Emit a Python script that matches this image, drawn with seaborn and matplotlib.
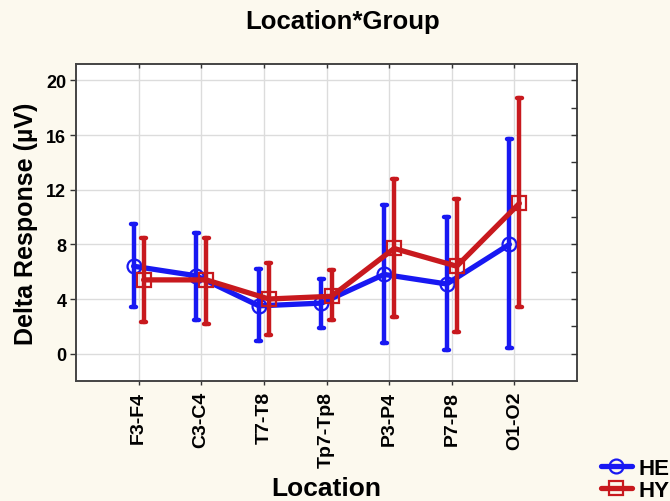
import numpy as np
import pandas as pd
import matplotlib
matplotlib.use("Agg")
import matplotlib.pyplot as plt
import seaborn as sns

locations = ["F3-F4", "C3-C4", "T7-T8", "Tp7-Tp8", "P3-P4", "P7-P8", "O1-O2"]
groups = ["HE", "HY"]

he_mean = [6.4, 5.7, 3.5, 3.7, 5.8, 5.1, 8.0]
he_low = [3.4, 2.5, 0.9, 1.9, 0.8, 0.3, 0.45]
he_high = [9.5, 8.8, 6.2, 5.5, 10.9, 10.0, 15.7]

hy_mean = [5.4, 5.4, 4.0, 4.2, 7.7, 6.4, 11.0]
hy_low = [2.3, 2.2, 1.35, 2.45, 2.7, 1.6, 3.4]
hy_high = [8.5, 8.5, 6.65, 6.1, 12.8, 11.3, 18.7]

yticks = [0, 4, 8, 12, 16, 20]

# long table: low/mean/high per cell -> median = mean, 100% interval = low..high
rows = []
for g, lo, mu, hi in [("HE", he_low, he_mean, he_high), ("HY", hy_low, hy_mean, hy_high)]:
    for loc, a, b, c in zip(locations, lo, mu, hi):
        for v in (a, b, c):
            rows.append({"Location": loc, "Group": g, "Value": v})
df = pd.DataFrame(rows)

sns.set_style("whitegrid")
plt.rcParams["font.family"] = ["Liberation Sans", "DejaVu Sans"]
plt.rcParams["font.weight"] = "bold"
for k in ("text.color", "axes.labelcolor", "xtick.color", "ytick.color"):
    plt.rcParams[k] = "black"

bg = "#FCF9EE"
blue = "#1818F2"
red = "#C8191E"

fig = plt.figure(figsize=(6.7, 5.02), dpi=100, facecolor=bg)
ax = fig.add_axes([76 / 670, 1 - 382 / 502, (577 - 76) / 670, (382 - 65) / 502])
ax.set_facecolor("white")

sns.pointplot(
    data=df, x="Location", y="Value", hue="Group", order=locations,
    hue_order=groups, estimator="median", errorbar=("pi", 100),
    palette=[blue, red], markers=["o", "s"], linestyles=["-", "-"],
    dodge=0.16, capsize=0.08, linewidth=3.8, markersize=10,
    markeredgewidth=1.6, markerfacecolor="none",
    err_kws={"linewidth": 3.2}, ax=ax,
)

for ln in ax.lines:
    ln.set_markerfacecolor("none")

ax.set_xlim(-1, 7)
ax.set_ylim(-2, 21.2)
ax.set_yticks(yticks)
ax.set_yticklabels([str(t) for t in yticks], fontsize=13, fontweight="bold")
ax.tick_params(axis="x", labelrotation=90, labelsize=14, direction="out",
               length=3, width=1, color="#333333", pad=4)
ax.tick_params(axis="y", direction="out", length=4, width=1, color="#333333", pad=3)
for lab in ax.get_xticklabels():
    lab.set_fontweight("bold")

ax.grid(True, color="#DCDCDC", linewidth=1)
for s in ax.spines.values():
    s.set_color("#444444")
    s.set_linewidth(1.4)

# inward ticks on right (every 2) and top (each category)
axr = ax.twinx()
axr.set_ylim(ax.get_ylim())
axr.set_yticks(np.arange(0, 21, 2))
axr.tick_params(axis="y", direction="in", length=4, width=1, color="#333333",
                labelright=False, right=True)
axr.grid(False)
axt = ax.twiny()
axt.set_xlim(ax.get_xlim())
axt.set_xticks(range(len(locations)))
axt.tick_params(axis="x", direction="in", length=3, width=1, color="#333333",
                labeltop=False, top=True)
axt.grid(False)
for a in (axr, axt):
    for s in a.spines.values():
        s.set_visible(False)

ax.set_xlabel("Location", fontsize=19, fontweight="bold", labelpad=7)
ax.set_ylabel("Delta Response (\u00b5V)", fontsize=18, fontweight="bold", labelpad=6)

fig.text(343 / 670, 1 - 22 / 502, "Location*Group", ha="center", va="center",
         fontsize=18.5, fontweight="bold")

handles, labels = ax.get_legend_handles_labels()
if ax.get_legend() is not None:
    ax.get_legend().remove()
fig.legend(handles, labels, loc="upper left", bbox_to_anchor=(592 / 670, 1 - 450 / 502),
           frameon=False, prop={"size": 16, "weight": "bold"}, handlelength=1.4,
           handletextpad=0.3, labelspacing=0.05, borderaxespad=0)

fig.savefig("out.png", dpi=100, facecolor=bg)
